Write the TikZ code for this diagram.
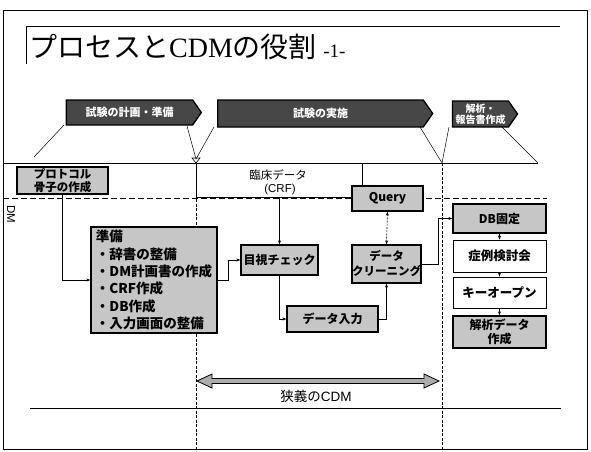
\documentclass[tikz,border=0pt]{standalone}
\usepackage{fontspec}
\setmainfont{Liberation Sans}
\newfontfamily\jp{Noto Sans CJK JP}
\newfontfamily\serifrm{Liberation Serif}
\usetikzlibrary{shapes.symbols,arrows.meta,calc}
\begin{document}
\begin{tikzpicture}[x=1pt,y=-1pt,
  gbox/.style={draw=black, line width=1.3pt, fill=gray!45, inner sep=0pt, align=center, font=\jp\bfseries\fontsize{12}{13.5}\selectfont},
  wbox/.style={draw=black, line width=0.9pt, fill=white, inner sep=0pt, align=center, font=\jp\bfseries\fontsize{12.5}{14}\selectfont},
  banner/.style={shape=signal, signal to=east, signal pointer angle=110, draw=black, line width=1.3pt, fill=black!72, text=white, font=\jp\bfseries\fontsize{11}{12}\selectfont, inner sep=0pt, align=center},
  arr/.style={-{Stealth[length=4pt,width=3pt]}, line width=0.6pt},
  thinl/.style={line width=0.5pt},
  dashl/.style={line width=0.9pt, dash pattern=on 6pt off 3pt},
  vdash/.style={line width=0.6pt, dash pattern=on 3pt off 1.5pt},
]
\useasboundingbox (0,0) rectangle (591,451);
% slide frame
\draw[line width=1pt] (3,10) rectangle (587,449);
% title
\draw[line width=0.8pt] (26,64) -- (26,26) -- (560,26);
\node[anchor=west, inner sep=0pt, font=\jp\fontsize{28}{30}\selectfont] (title) at (29,47)
  {プロセスと{\serifrm CDM}の役割 {\serifrm\fontsize{19}{20}\selectfont -1-}};
% banners
\node[banner, minimum width=135pt, minimum height=25pt] (b1) at (129.5,112.5) {試験の計画・準備};
\node[banner, minimum width=215pt, minimum height=27pt] (b2) at (320.5,113.5) {試験の実施};
\node[banner, minimum width=65pt, minimum height=26pt, font=\jp\bfseries\fontsize{10}{11}\selectfont] (b3) at (480.5,114) {解析・\\報告書作成};
% callout lines
\coordinate (c1a) at (64,125);  \coordinate (c1b) at (34,157);
\coordinate (c2a) at (187,126); \coordinate (v1) at (196,159); \coordinate (c2b) at (214,127);
\coordinate (c3a) at (420,127); \coordinate (v2) at (442,163); \coordinate (c3b) at (449,127);
\coordinate (c4a) at (502,127); \coordinate (c4b) at (538,163);
\draw[thinl] (c1a) -- (c1b);
\draw[thinl] (c2a) -- (v1) -- (c2b);
\draw[thinl] (c3a) -- (v2) -- (c3b);
\draw[thinl] (c4a) -- (c4b);
\draw[line width=0.6pt] (192,158) -- (200,158) -- (196,163) -- cycle;
% main lines
\coordinate (hl) at (3,163); \coordinate (hr) at (538,163);
\draw[line width=0.9pt] (hl) -- (hr);
\coordinate (dl) at (3,198); \coordinate (dr) at (547,198);
\draw[dashl] (dl) -- (dr);
\coordinate (t1) at (196,163); \coordinate (t1b) at (196,449);
\coordinate (t2) at (442,163); \coordinate (t2b) at (442,449);
\draw[vdash] (t1) -- (t1b);
\draw[vdash] (t2) -- (t2b);
% CRF bracket
\coordinate (crfc) at (196,197); \coordinate (crfq) at (352,197);
\draw[thinl] (t1) -- (crfc) -- (crfq);
\node[font=\jp\fontsize{11.5}{12}\selectfont, inner sep=0pt] (crf1) at (278,175) {臨床データ};
\node[font=\fontsize{11.5}{12}\selectfont, inner sep=0pt] (crf2) at (280,190) {(CRF)};
% DM label
\node[rotate=-90, font=\fontsize{11.5}{12}\selectfont, inner sep=0pt] (dm) at (11,214) {DM};
% boxes
\node[gbox, minimum width=91pt, minimum height=27pt, font=\jp\bfseries\fontsize{11.5}{12.5}\selectfont] (prot) at (62.5,180.5) {プロトコル\\骨子の作成};
\node[gbox, minimum width=126pt, minimum height=106pt, align=left, anchor=center,
      font=\jp\bfseries\fontsize{13.5}{17.3}\selectfont, inner sep=1pt] (prep) at (154,280)
  {準備\\・辞書の整備\\・DM計画書の作成\\・CRF作成\\・DB作成\\・入力画面の整備};
\node[gbox, minimum width=77pt, minimum height=30pt] (moku) at (279.5,260) {目視チェック};
\node[gbox, minimum width=91pt, minimum height=26pt] (input) at (332.5,319) {データ入力};
\node[gbox, minimum width=69pt, minimum height=38pt, font=\jp\bfseries\fontsize{11.5}{15}\selectfont] (clean) at (386.5,264) {データ\\クリーニング};
\node[gbox, minimum width=71pt, minimum height=25pt] (query) at (387.5,198.5) {Query};
\node[gbox, minimum width=93pt, minimum height=29pt] (db) at (499.5,218.5) {DB固定};
\node[wbox, minimum width=93pt, minimum height=32pt] (case) at (499.5,256) {症例検討会};
\node[wbox, minimum width=93pt, minimum height=31pt] (key) at (499.5,292.5) {キーオープン};
\node[gbox, minimum width=93pt, minimum height=32pt] (ana) at (499.5,332) {解析データ\\作成};
% connectors
\draw[arr] (prot.south) |- (prep.west);
\draw[arr] (prep.east) -- ++(11,0) |- (moku.west);
\coordinate (crfbot) at (279.5,198);
\draw[arr] (crfbot) -- (moku.north);
\draw[arr] (moku.south) |- (input.west);
\draw[arr] (input.east) -| (clean.south);
\coordinate (qtop) at (362,163);
\draw[thinl] (qtop) -- (qtop |- query.north);
\draw[{Stealth[length=4pt,width=3pt]}-{Stealth[length=4pt,width=3pt]}, line width=0.6pt, dash pattern=on 2pt off 1.2pt] (query.south) -- (clean.north);
\draw[arr] (clean.east) -- ++(17,0) |- (db.west);
\draw[arr] (db.south) -- (case.north);
\draw[arr] (case.south) -- (key.north);
\draw[arr] (key.south) -- (ana.north);
% narrow CDM arrow
\coordinate (al) at (197,381); \coordinate (ar) at (439,381);
\filldraw[fill=gray!65, draw=black, line width=0.8pt]
  (al) -- ($(al)+(15,-7)$) -- ($(al)+(15,-2.5)$) -- ($(ar)+(-15,-2.5)$) -- ($(ar)+(-15,-7)$) -- (ar)
  -- ($(ar)+(-15,7)$) -- ($(ar)+(-15,2.5)$) -- ($(al)+(15,2.5)$) -- ($(al)+(15,7)$) -- cycle;
\node[font=\jp\fontsize{13.5}{14}\selectfont, inner sep=0pt] (cdm) at (316,396) {狭義の{\fontspec{Liberation Sans}CDM}};
\coordinate (bl) at (30,408); \coordinate (br) at (561,408);
\draw[line width=1pt] (bl) -- (br);
\end{tikzpicture}
\end{document}
